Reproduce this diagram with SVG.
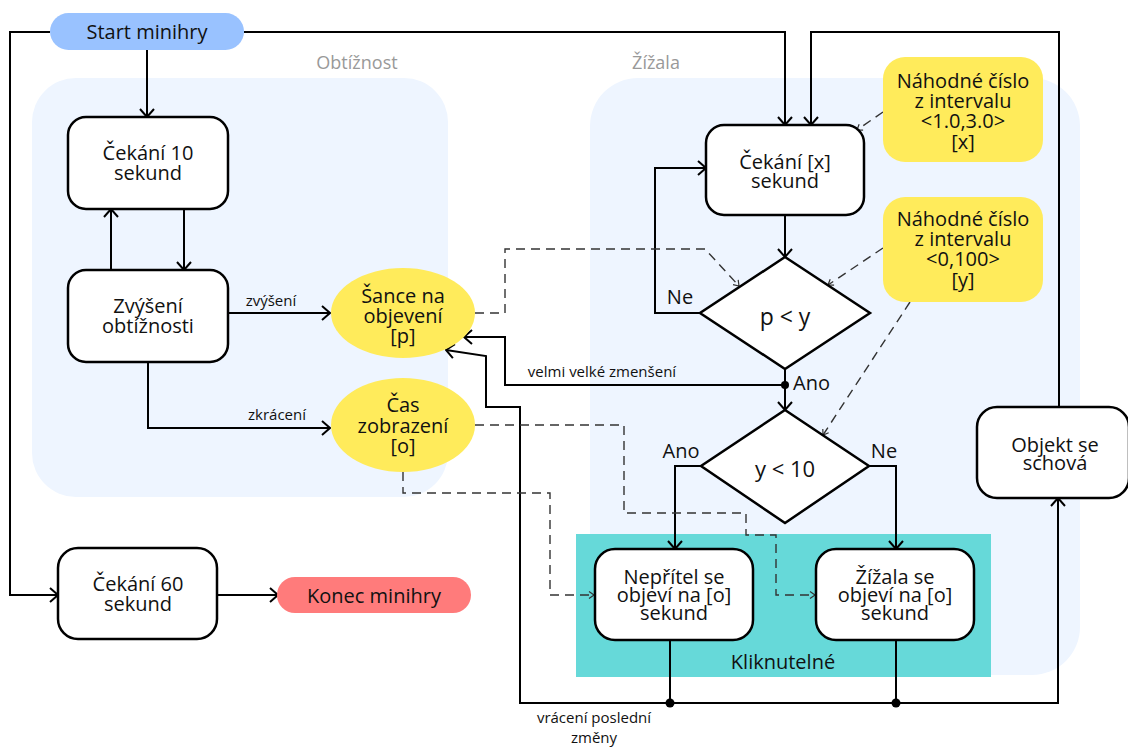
<svg xmlns="http://www.w3.org/2000/svg" width="1128" height="747" viewBox="0 0 1128 747">
<style>
text{font-family:"Open Sans","Noto Sans","DejaVu Sans",sans-serif;fill:#111;text-anchor:middle}
.t20{font-size:20px}
.t15{font-size:15px}
.grp{font-size:18px;fill:#999}
.box{fill:#fff;stroke:#000;stroke-width:2.5}
.yel{fill:#ffeb5b}
.reg{fill:#eef5ff}
.c{fill:none;stroke:#000;stroke-width:2}
.d{fill:none;stroke:#333;stroke-width:1.4;stroke-dasharray:9 6}
</style>
<defs>
<marker id="a" markerUnits="userSpaceOnUse" viewBox="0 0 16 16" markerWidth="16" markerHeight="16" refX="15" refY="8" orient="auto">
<path d="M7,1 L15,8 L7,15" fill="none" stroke="#000" stroke-width="2"/>
</marker>
<marker id="s" markerUnits="userSpaceOnUse" viewBox="0 0 10 10" markerWidth="10" markerHeight="10" refX="8" refY="5" orient="auto">
<path d="M3,1.5 L8,5 L3,8.5" fill="none" stroke="#333" stroke-width="1.2"/>
</marker>
</defs>
<rect width="1128" height="747" fill="#fff"/>
<g id="region-obtiznost">
<rect class="reg" x="32" y="78" width="416" height="419" rx="44"/>
<text class="grp" x="357" y="69">Obtížnost</text>
</g>
<g id="region-zizala">
<rect class="reg" x="590" y="78" width="490" height="597" rx="48"/>
<text class="grp" x="656" y="69">Žížala</text>
</g>
<g id="kliknutelne">
<rect x="576" y="534" width="415" height="143" fill="#66d9d9"/>
<text class="t20" x="783" y="669">Kliknutelné</text>
</g>
<g id="connectors">
<path class="c" d="M147,50 V117" marker-end="url(#a)"/>
<path class="c" d="M50,32 H10 V595 H58" marker-end="url(#a)"/>
<path class="c" d="M244,32 H785 V125" marker-end="url(#a)"/>
<path class="c" d="M1059,407 V32 H811 V125" marker-end="url(#a)"/>
<path class="c" d="M184,209 V270" marker-end="url(#a)"/>
<path class="c" d="M111,270 V209" marker-end="url(#a)"/>
<path class="c" d="M228,313 H330" marker-end="url(#a)"/>
<path class="c" d="M148,362 V428 H330" marker-end="url(#a)"/>
<path class="c" d="M785,215 V257" marker-end="url(#a)"/>
<path class="c" d="M700,313 H655 V168 H706" marker-end="url(#a)"/>
<path class="c" d="M785,369 V410" marker-end="url(#a)"/>
<path class="c" d="M785,385 H505 V337 H464" marker-end="url(#a)"/>
<path class="c" d="M701,466 H675 V549" marker-end="url(#a)"/>
<path class="c" d="M869,466 H896 V549" marker-end="url(#a)"/>
<path class="c" d="M217,595 H278" marker-end="url(#a)"/>
<path class="c" d="M670,640 V703"/>
<path class="c" d="M896,640 V703"/>
<path class="c" d="M670,703 H1058 V498" marker-end="url(#a)"/>
<path class="c" d="M670,703 H520 V407 H486 V356 L446,350" marker-end="url(#a)"/>
<circle cx="785" cy="385" r="4"/>
<circle cx="670" cy="703" r="4.5"/>
<circle cx="896" cy="703" r="4.5"/>
<path class="d" d="M475,313 H505 V249 H705 L739,286" marker-end="url(#s)"/>
<path class="d" d="M883,112 L857,130" marker-end="url(#s)"/>
<path class="d" d="M883,248 L828,285" marker-end="url(#s)"/>
<path class="d" d="M910,302 L823,435" marker-end="url(#s)"/>
<path class="d" d="M475,425 H624 V513 H746 V535 H776 V595 H815" marker-end="url(#s)"/>
<path class="d" d="M403,472 V493 H550 V595 H594" marker-end="url(#s)"/>
<text class="t15" x="271" y="306">zvýšení</text>
<text class="t15" x="277" y="420">zkrácení</text>
<text class="t15" x="602" y="377">velmi velké zmenšení</text>
<text class="t15" x="594" y="723">vrácení poslední<tspan x="594" dy="20">změny</tspan></text>
<text class="t20" x="680" y="304">Ne</text>
<text class="t20" x="793" y="390" style="text-anchor:start">Ano</text>
<text class="t20" x="681" y="458">Ano</text>
<text class="t20" x="884" y="458">Ne</text>
</g>
<g id="start">
<rect x="50" y="13" width="194" height="37" rx="18.5" fill="#99c2ff"/>
<text class="t20" x="147" y="39">Start minihry</text>
</g>
<g id="cekani10">
<rect class="box" x="68" y="117" width="160" height="92" rx="18"/>
<text class="t20" x="148" y="160">Čekání 10<tspan x="148" dy="20">sekund</tspan></text>
</g>
<g id="zvyseni">
<rect class="box" x="68" y="270" width="160" height="92" rx="18"/>
<text class="t20" x="148" y="313">Zvýšení<tspan x="148" dy="20">obtížnosti</tspan></text>
</g>
<g id="sance">
<ellipse class="yel" cx="403" cy="313" rx="72" ry="45"/>
<text class="t20" x="403" y="303">Šance na<tspan x="403" dy="20">objevení</tspan><tspan x="403" dy="20">[p]</tspan></text>
</g>
<g id="cas">
<ellipse class="yel" cx="403" cy="425" rx="72" ry="47"/>
<text class="t20" x="403" y="412">Čas<tspan x="403" dy="21">zobrazení</tspan><tspan x="403" dy="20">[o]</tspan></text>
</g>
<g id="cekanix">
<rect class="box" x="706" y="125" width="158" height="90" rx="18"/>
<text class="t20" x="785" y="169">Čekání [x]<tspan x="785" dy="19">sekund</tspan></text>
</g>
<g id="p-lt-y">
<polygon class="box" points="785,257 870,313 785,369 700,313"/>
<text x="785" y="325" style="font-size:23px">p &lt; y</text>
</g>
<g id="y-lt-10">
<polygon class="box" points="785,410 869,466 785,523 701,466"/>
<text x="785" y="477" style="font-size:22px">y &lt; 10</text>
</g>
<g id="nahodne-x">
<rect class="yel" x="883" y="57" width="160" height="105" rx="22"/>
<text class="t20" x="963" y="88">Náhodné číslo<tspan x="963" dy="20">z intervalu</tspan><tspan x="963" dy="20">&lt;1.0,3.0&gt;</tspan><tspan x="963" dy="21">[x]</tspan></text>
</g>
<g id="nahodne-y">
<rect class="yel" x="883" y="197" width="160" height="105" rx="22"/>
<text class="t20" x="963" y="226">Náhodné číslo<tspan x="963" dy="20">z intervalu</tspan><tspan x="963" dy="20">&lt;0,100&gt;</tspan><tspan x="963" dy="21">[y]</tspan></text>
</g>
<g id="objekt">
<rect class="box" x="977" y="407" width="152" height="91" rx="20"/>
<text class="t20" x="1055" y="452">Objekt se<tspan x="1055" dy="18">schová</tspan></text>
</g>
<g id="nepritel">
<rect class="box" x="595" y="549" width="158" height="91" rx="20"/>
<text class="t20" x="674" y="584">Nepřítel se<tspan x="674" dy="18">objeví na [o]</tspan><tspan x="674" dy="18">sekund</tspan></text>
</g>
<g id="zizala-objevi">
<rect class="box" x="816" y="549" width="158" height="91" rx="20"/>
<text class="t20" x="895" y="584">Žížala se<tspan x="895" dy="18">objeví na [o]</tspan><tspan x="895" dy="18">sekund</tspan></text>
</g>
<g id="cekani60">
<rect class="box" x="58" y="548" width="159" height="91" rx="20"/>
<text class="t20" x="138" y="591">Čekání 60<tspan x="138" dy="20">sekund</tspan></text>
</g>
<g id="konec">
<rect x="277" y="577" width="194" height="36" rx="18" fill="#ff7b7b"/>
<text class="t20" x="374" y="603">Konec minihry</text>
</g>
</svg>
